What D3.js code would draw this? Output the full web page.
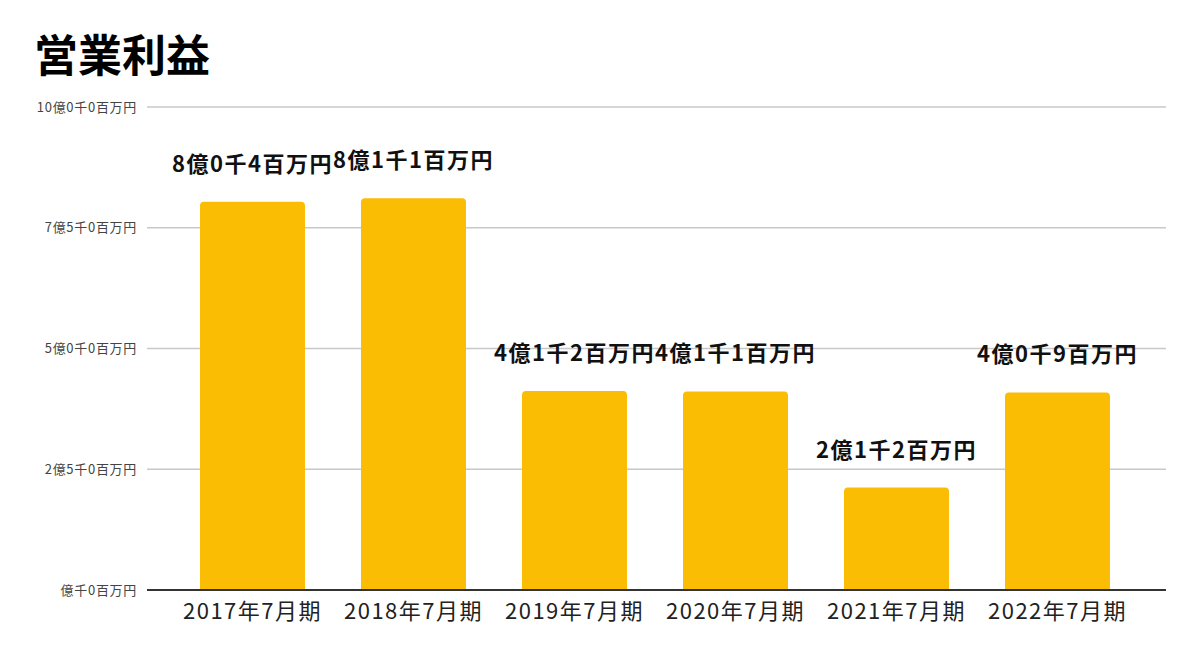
<!DOCTYPE html>
<html>
<head>
<meta charset="utf-8">
<script src="https://cdn.jsdelivr.net/npm/d3@7"></script>
<style>
  body { margin: 0; background: #fff; }
  svg { font-family: "Noto Sans CJK JP", "Noto Sans", sans-serif; }
</style>
</head>
<body>
<div id="area"></div>
<script>
const categories = ["2017年7月期", "2018年7月期", "2019年7月期", "2020年7月期", "2021年7月期", "2022年7月期"];
// 百万円
const values = [804, 811, 412, 411, 212, 409];
const valueLabels = ["8億0千4百万円", "8億1千1百万円", "4億1千2百万円", "4億1千1百万円", "2億1千2百万円", "4億0千9百万円"];
const yTicks = [0, 250, 500, 750, 1000];
const yTickLabels = ["億千0百万円", "2億5千0百万円", "5億0千0百万円", "7億5千0百万円", "10億0千0百万円"];

const width = 1200;
const height = 658;

const svg = d3
  .select("#area")
  .append("svg")
  .attr("width", width)
  .attr("height", height);

const x = d3
  .scaleBand()
  .domain(categories)
  .range([172, 1138])
  .paddingInner(0.348)
  .paddingOuter(0.174);

const y = d3.scaleLinear().domain([0, 1000]).range([590, 107]);

// title
svg
  .append("text")
  .attr("x", 34)
  .attr("y", 72)
  .attr("font-size", 44)
  .attr("font-weight", "bold")
  .attr("fill", "#000")
  .text("営業利益");

// gridlines
svg
  .append("g")
  .selectAll("line")
  .data(yTicks.slice(1))
  .join("line")
  .attr("x1", 147)
  .attr("x2", 1166)
  .attr("y1", (d) => y(d))
  .attr("y2", (d) => y(d))
  .attr("stroke", "#c8c8c8")
  .attr("stroke-width", 1.3);

// y-axis labels
svg
  .append("g")
  .selectAll("text")
  .data(yTicks)
  .join("text")
  .attr("x", 137)
  .attr("y", (d) => y(d))
  .attr("dy", "0.35em")
  .attr("text-anchor", "end")
  .attr("font-size", 13)
  .attr("letter-spacing", 0.7)
  .attr("fill", "#444")
  .text((d, i) => yTickLabels[i]);

// bars with rounded tops
svg
  .append("g")
  .selectAll("path")
  .data(values)
  .join("path")
  .attr("fill", "#fbbc04")
  .attr("d", (d, i) => {
    const x0 = x(categories[i]);
    const w = x.bandwidth();
    const y0 = y(d);
    const y1 = y(0);
    const r = 4;
    return `M${x0},${y1}V${y0 + r}Q${x0},${y0} ${x0 + r},${y0}H${x0 + w - r}Q${x0 + w},${y0} ${x0 + w},${y0 + r}V${y1}Z`;
  });

// baseline
svg
  .append("line")
  .attr("x1", 147)
  .attr("x2", 1166)
  .attr("y1", y(0))
  .attr("y2", y(0))
  .attr("stroke", "#333")
  .attr("stroke-width", 2);

// value labels
svg
  .append("g")
  .selectAll("text")
  .data(values)
  .join("text")
  .attr("x", (d, i) => x(categories[i]) + x.bandwidth() / 2)
  .attr("y", (d) => y(d) - 30)
  .attr("text-anchor", "middle")
  .attr("font-size", 22)
  .attr("letter-spacing", 1.5)
  .attr("font-weight", "bold")
  .attr("fill", "#111")
  .text((d, i) => valueLabels[i]);

// x-axis labels
svg
  .append("g")
  .selectAll("text")
  .data(categories)
  .join("text")
  .attr("x", (d) => x(d) + x.bandwidth() / 2)
  .attr("y", 619)
  .attr("text-anchor", "middle")
  .attr("font-size", 22)
  .attr("letter-spacing", 1.5)
  .attr("fill", "#222")
  .text((d) => d);
</script>
</body>
</html>
